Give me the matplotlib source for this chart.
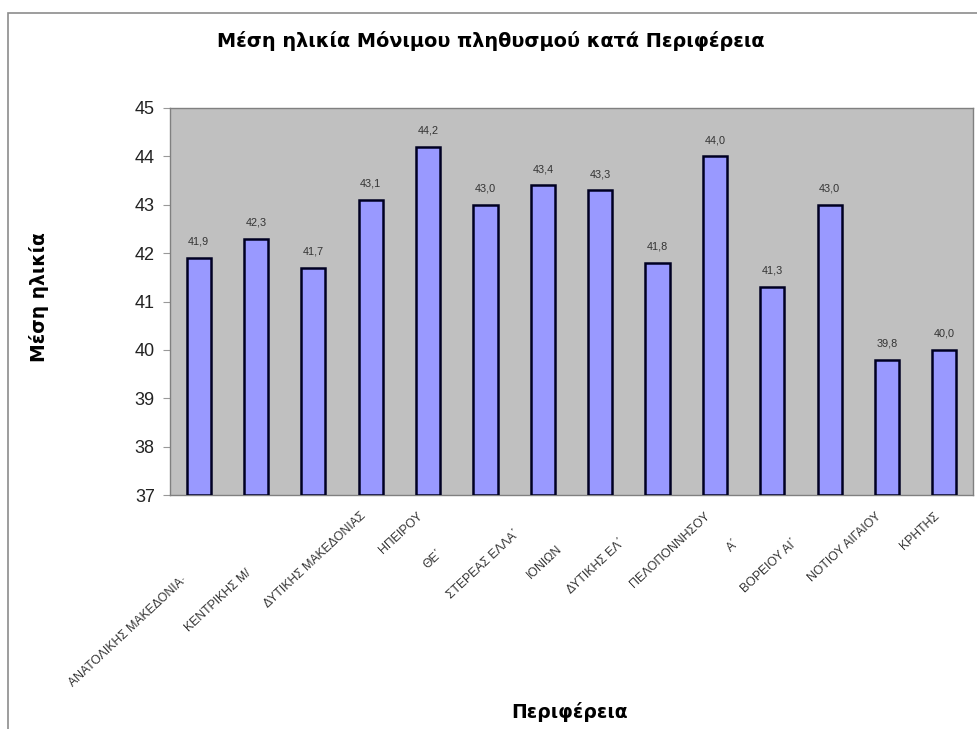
import numpy as np
import matplotlib.pyplot as plt
from matplotlib.patches import Rectangle
from matplotlib.transforms import ScaledTranslation

plt.rcParams['font.family'] = ['Liberation Sans', 'DejaVu Sans']

# === Δεδομένα ===
regions = ['', 'ΑΝΑΤΟΛΙΚΗΣ ΜΑΚΕΔΟΝΙΑ·', 'ΚΕΝΤΡΙΚΗΣ Μ/', 'ΔΥΤΙΚΗΣ ΜΑΚΕΔΟΝΙΑΣ',
           'ΗΠΕΙΡΟΥ', 'ΘΕ΄', 'ΣΤΕΡΕΑΣ ΕΛΛΑ΄', 'ΙΟΝΙΩΝ', 'ΔΥΤΙΚΗΣ ΕΛ΄',
           'ΠΕΛΟΠΟΝΝΗΣΟΥ', 'Α΄', 'ΒΟΡΕΙΟΥ ΑΙ΄', 'ΝΟΤΙΟΥ ΑΙΓΑΙΟΥ', 'ΚΡΗΤΗΣ']
mean_age = [41.9, 42.3, 41.7, 43.1, 44.2, 43.0, 43.4, 43.3,
            41.8, 44.0, 41.3, 43.0, 39.8, 40.0]
y_ticks = [37, 38, 39, 40, 41, 42, 43, 44, 45]

# μετατόπιση ετικετών κατά μήκος της διαγωνίου (px) - όπως στο πρωτότυπο
label_drop = [0, 90, 80, 0, 0, 53, 25, 46, 38, 0, 38, 37, 0, 0]

fig = plt.figure(figsize=(9.78, 7.29), dpi=100)
fig.patches.append(Rectangle((8 / 978, -0.1), 1.2, 1 - 13 / 729 + 0.1,
                             transform=fig.transFigure, fill=False,
                             edgecolor='#8c8c8c', linewidth=1.2))

ax = fig.add_axes([170 / 978, 1 - 495 / 729, (973 - 170) / 978, (495 - 108) / 729])
ax.set_facecolor('#c0c0c0')

x = np.arange(len(mean_age))
ax.bar(x, np.array(mean_age) - 37, bottom=37, width=0.42,
       color='#9999ff', edgecolor='#000022', linewidth=1.8, zorder=3)

for xi, v in zip(x, mean_age):
    ax.annotate(f'{v:.1f}'.replace('.', ','), (xi, v), xytext=(0, 8),
                textcoords='offset points', ha='center', va='bottom',
                fontsize=7.8, color='#333333')

ax.set_xlim(-0.5, len(mean_age) - 0.5)
ax.set_ylim(37, 45)
ax.set_yticks(y_ticks)
ax.tick_params(axis='y', labelsize=13, colors='#999999', length=5, width=0.8,
               pad=6)
for t in ax.get_yticklabels():
    t.set_color('#222222')

ax.set_xticks(x, regions)
ax.tick_params(axis='x', length=0, pad=14)
for lab, d in zip(ax.get_xticklabels(), label_drop):
    lab.set_rotation(43)
    lab.set_rotation_mode('anchor')
    lab.set_ha('right')
    lab.set_va('center')
    lab.set_fontsize(8.8)
    lab.set_color('#333333')
    s = d / 1.41 / 100
    lab.set_transform(lab.get_transform() +
                      ScaledTranslation(-s - 0.07, -s, fig.dpi_scale_trans))

for sp in ax.spines.values():
    sp.set_color('#808080')
    sp.set_linewidth(1.0)

bold = dict(fontweight='bold', family=['DejaVu Sans'])
fig.text(491 / 978, 1 - 41 / 729, 'Μέση ηλικία Μόνιμου πληθυσμού κατά Περιφέρεια',
         ha='center', va='center', fontsize=13.9, **bold)
fig.text(39 / 978, 1 - 297 / 729, 'Μέση ηλικία', rotation=90, ha='center',
         va='center', fontsize=13.5, **bold)
fig.text(570 / 978, 1 - 712 / 729, 'Περιφέρεια', ha='center', va='center',
         fontsize=13.5, **bold)

fig.savefig('out.png', dpi=100)
